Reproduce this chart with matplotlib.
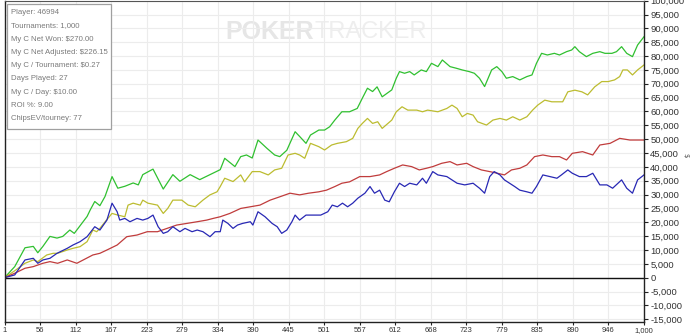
import matplotlib
matplotlib.use("Agg")
import matplotlib.pyplot as plt
import numpy as np
from matplotlib.patches import Rectangle

# values (tournament #, cumulative value)
green_t = [1, 17, 33, 46, 53, 61, 72, 83, 92, 103, 110, 130, 135, 142, 150, 158, 169, 178, 189, 202,
           210, 217, 233, 249, 264, 275, 291, 306, 322, 338, 345, 361, 370, 379, 388, 397, 411, 423, 431,
           442, 455, 462, 472, 479, 492, 501, 509, 517, 528, 540, 552, 560, 568, 576, 583, 591, 606, 613,
           618, 626, 634, 641, 652, 660, 668, 678, 685, 697, 707, 716, 727, 735, 743, 751, 762, 770, 778,
           785, 795, 806, 817, 825, 832, 840, 849, 860, 868, 879, 887, 892, 899, 910, 920, 931, 939, 950,
           957, 965, 973, 982, 990, 1000]
green_v = [0, 4000, 10800, 11300, 9000, 11300, 14900, 14300, 14900, 17200, 16000, 22100, 24500, 27500,
           26000, 29300, 36500, 32300, 33000, 34200, 33500, 37200, 39200, 32000, 37200, 34800, 37200,
           35400, 37200, 39000, 43100, 40100, 43700, 44300, 43200, 49700, 46700, 44300, 43700, 46000,
           52700, 51000, 48500, 51500, 53300, 53300, 54500, 56900, 59900, 59900, 61100, 64800, 68400,
           67200, 68900, 65300, 67800, 72000, 74400, 73800, 74400, 73200, 75000, 74400, 77400, 76200,
           78600, 76200, 75600, 75000, 74400, 73800, 72000, 69000, 75000, 76200, 74400, 72000, 72600,
           71400, 72600, 73200, 77400, 81000, 80400, 81000, 80400, 81600, 82200, 83400, 81600, 79800,
           81000, 81600, 81000, 81000, 81600, 83400, 81000, 79800, 84000, 87000]

yellow_t = [1, 17, 33, 46, 53, 67, 77, 84, 99, 108, 119, 130, 139, 145, 150, 161, 169, 178, 189, 194,
            202, 213, 217, 225, 240, 249, 256, 264, 278, 288, 299, 311, 322, 333, 338, 345, 358, 370, 376,
            388, 400, 413, 423, 434, 444, 455, 462, 470, 479, 492, 501, 512, 521, 535, 545, 553, 560, 568,
            576, 584, 591, 606, 613, 622, 631, 645, 654, 662, 678, 692, 700, 708, 716, 724, 733, 740, 754,
            764, 775, 785, 795, 806, 817, 826, 834, 845, 856, 865, 873, 881, 892, 903, 912, 923, 934, 944,
            954, 962, 967, 974, 982, 990, 1000]
yellow_v = [0, 2500, 5200, 6400, 5800, 8200, 8800, 8800, 10000, 10600, 11200, 13000, 17200, 16600, 17800,
            21000, 23200, 22600, 22000, 26200, 26900, 26200, 28000, 26900, 26200, 23200, 25000, 28000,
            28000, 26200, 25600, 28000, 29900, 31000, 32900, 35900, 34700, 37100, 34600, 38300, 38300,
            37100, 38900, 39500, 44300, 44900, 44300, 43100, 48500, 47300, 46100, 47900, 48500, 49100,
            50300, 53900, 55700, 57500, 55700, 56300, 53900, 56900, 59900, 61700, 60500, 60500, 59900,
            60500, 59900, 61100, 62300, 61100, 58100, 59300, 58700, 56300, 55100, 56900, 57500, 56900,
            58100, 56900, 58100, 60500, 62300, 64100, 63500, 63500, 63500, 67100, 67700, 67100, 66000,
            68900, 70800, 70800, 71400, 72600, 75000, 75000, 73200, 75000, 76800]

red_t = [1, 17, 33, 46, 61, 72, 84, 99, 114, 124, 139, 150, 161, 177, 192, 208, 224, 240, 255, 270, 286,
         302, 317, 327, 338, 353, 370, 385, 400, 416, 431, 447, 462, 476, 492, 504, 517, 528, 540, 556,
         572, 587, 598, 610, 623, 637, 649, 660, 670, 684, 697, 708, 723, 733, 746, 759, 771, 782, 793,
         806, 817, 829, 842, 856, 868, 879, 888, 904, 920, 931, 947, 962, 978, 1000]
red_v = [0, 1600, 3400, 4000, 5200, 5800, 5200, 6400, 5200, 6400, 8200, 8800, 10000, 11800, 14800,
         15400, 16600, 16600, 17800, 19000, 19600, 20200, 20800, 21400, 22000, 23200, 25000, 25600,
         26200, 28000, 29200, 30500, 29900, 30500, 31000, 31600, 32900, 34100, 34600, 36500, 36500,
         37100, 38300, 39500, 40700, 40100, 38900, 39500, 40100, 41300, 41900, 40700, 41300, 40100,
         38900, 38300, 37700, 37100, 38900, 39500, 40700, 43700, 44300, 43700, 43700, 42500, 44900,
         45500, 44300, 47900, 48500, 50300, 49700, 49700]

blue_t = [1, 17, 33, 46, 53, 61, 72, 83, 99, 108, 119, 130, 142, 150, 161, 169, 177, 181, 189, 197, 208,
          217, 225, 233, 241, 249, 256, 264, 275, 283, 294, 302, 311, 322, 330, 338, 342, 350, 358, 365,
          373, 385, 389, 397, 408, 419, 427, 434, 442, 450, 455, 462, 472, 480, 495, 506, 513, 521, 529,
          537, 545, 553, 564, 572, 579, 587, 595, 602, 610, 618, 626, 634, 645, 654, 660, 670, 678, 692,
          700, 708, 720, 733, 743, 751, 759, 766, 775, 782, 790, 798, 806, 817, 825, 832, 842, 853, 864,
          871, 881, 888, 899, 910, 920, 931, 942, 951, 965, 973, 982, 990, 1000]
blue_v = [0, 1000, 6400, 7000, 5200, 6400, 7000, 8800, 10600, 11800, 13000, 14800, 18400, 17200, 20800,
          26900, 23800, 20800, 21400, 20200, 21400, 20800, 21400, 22600, 18400, 16000, 16600, 18400,
          16600, 17800, 16600, 17200, 16600, 14800, 16600, 16600, 20800, 19600, 17800, 19000, 19600,
          20200, 19000, 23800, 22000, 19600, 18400, 16000, 17200, 20200, 22600, 20800, 22600, 22600,
          22600, 23800, 26200, 25600, 26900, 25600, 26900, 28700, 30500, 32900, 30500, 31600, 28000,
          27400, 31000, 34100, 32900, 34100, 33500, 35900, 34100, 38300, 37100, 36500, 35300, 34100,
          33500, 34100, 32300, 30500, 36500, 38300, 37100, 35300, 34100, 32900, 31600, 31000, 30500,
          32900, 37100, 36500, 35900, 37100, 38900, 37700, 36500, 36500, 37700, 33500, 33500, 32300,
          35300, 32300, 30500, 35300, 37100]

x_tick_labels = ["1", "56", "112", "167", "223", "279", "334", "390", "445", "501", "557", "612",
                 "668", "723", "779", "835", "890", "946", "1,000"]
y_ticks = list(range(-15000, 100001, 5000))

info_lines = [
    "Player: 46994",
    "Tournaments: 1,000",
    "My C Net Won: $270.00",
    "My C Net Adjusted: $226.15",
    "My C / Tournament: $0.27",
    "Days Played: 27",
    "My C / Day: $10.00",
    "ROI %: 9.00",
    "ChipsEV/tourney: 77",
]

fig = plt.figure(figsize=(7, 3.34), dpi=100)
ax = fig.add_axes([4.5 / 700, 12 / 334, 639.5 / 700, 321.3 / 334])

# watermark
ax.text(0.345, 0.9026, "POKER", transform=ax.transAxes, fontsize=18, fontweight="bold",
        family="Liberation Sans", color="#e6e6e6", ha="left", va="center", zorder=0)
ax.text(0.4855, 0.9026, "TRACKER", transform=ax.transAxes, fontsize=17,
        family="Liberation Sans", color="#eeeeee", ha="left", va="center", zorder=0)

ax.plot(green_t, green_v, color="#30c030", lw=0.9)
ax.plot(yellow_t, yellow_v, color="#bcbc30", lw=0.9)
ax.plot(red_t, red_v, color="#c03c3c", lw=0.9)
ax.plot(blue_t, blue_v, color="#2828b4", lw=0.9)
ax.axhline(0, color="#111111", lw=1.0)

x_ticks = np.linspace(1, 1000, len(x_tick_labels))
ax.set_xlim(1, 1000)
ax.set_ylim(-16000, 100000)
ax.set_xticks(x_ticks)
ax.set_xticklabels(x_tick_labels, family="Liberation Sans", fontsize=5.5, color="#333333")
ax.set_yticks(y_ticks)
ax.set_yticklabels([f"{v:,}" for v in y_ticks], family="Liberation Sans", fontsize=6.8, color="#333333")
ax.yaxis.tick_right()
ax.tick_params(axis="y", length=3, width=0.8, pad=1.5, color="#222222")
ax.tick_params(axis="x", length=2, width=0.8, pad=1.5, color="#222222")
ax.grid(True, color="#ececec", lw=0.8)
ax.set_axisbelow(True)
for side in ["left", "bottom", "right"]:
    ax.spines[side].set_color("#222222")
    ax.spines[side].set_linewidth(1.0)
ax.spines["top"].set_color("#555555")

# info box
ax.add_patch(Rectangle((2.5 / 639.5, 1 - 128 / 321.3), 104 / 639.5, 125 / 321.3,
                       transform=ax.transAxes, facecolor="white",
                       edgecolor="#a0a0a0", lw=0.9, zorder=5))
for i, line in enumerate(info_lines):
    fig.text(11 / 700, 1 - (12.5 + 13.3 * i) / 334, line, fontsize=5.6, family="Liberation Sans",
             color="#7a7a7a", va="center", ha="left", parse_math=False, zorder=6)

fig.text(685 / 700, 1 - 155 / 334, "$", fontsize=5, rotation=-90, color="#555555",
         ha="center", va="center", parse_math=False)

fig.savefig("out.png", dpi=100)
